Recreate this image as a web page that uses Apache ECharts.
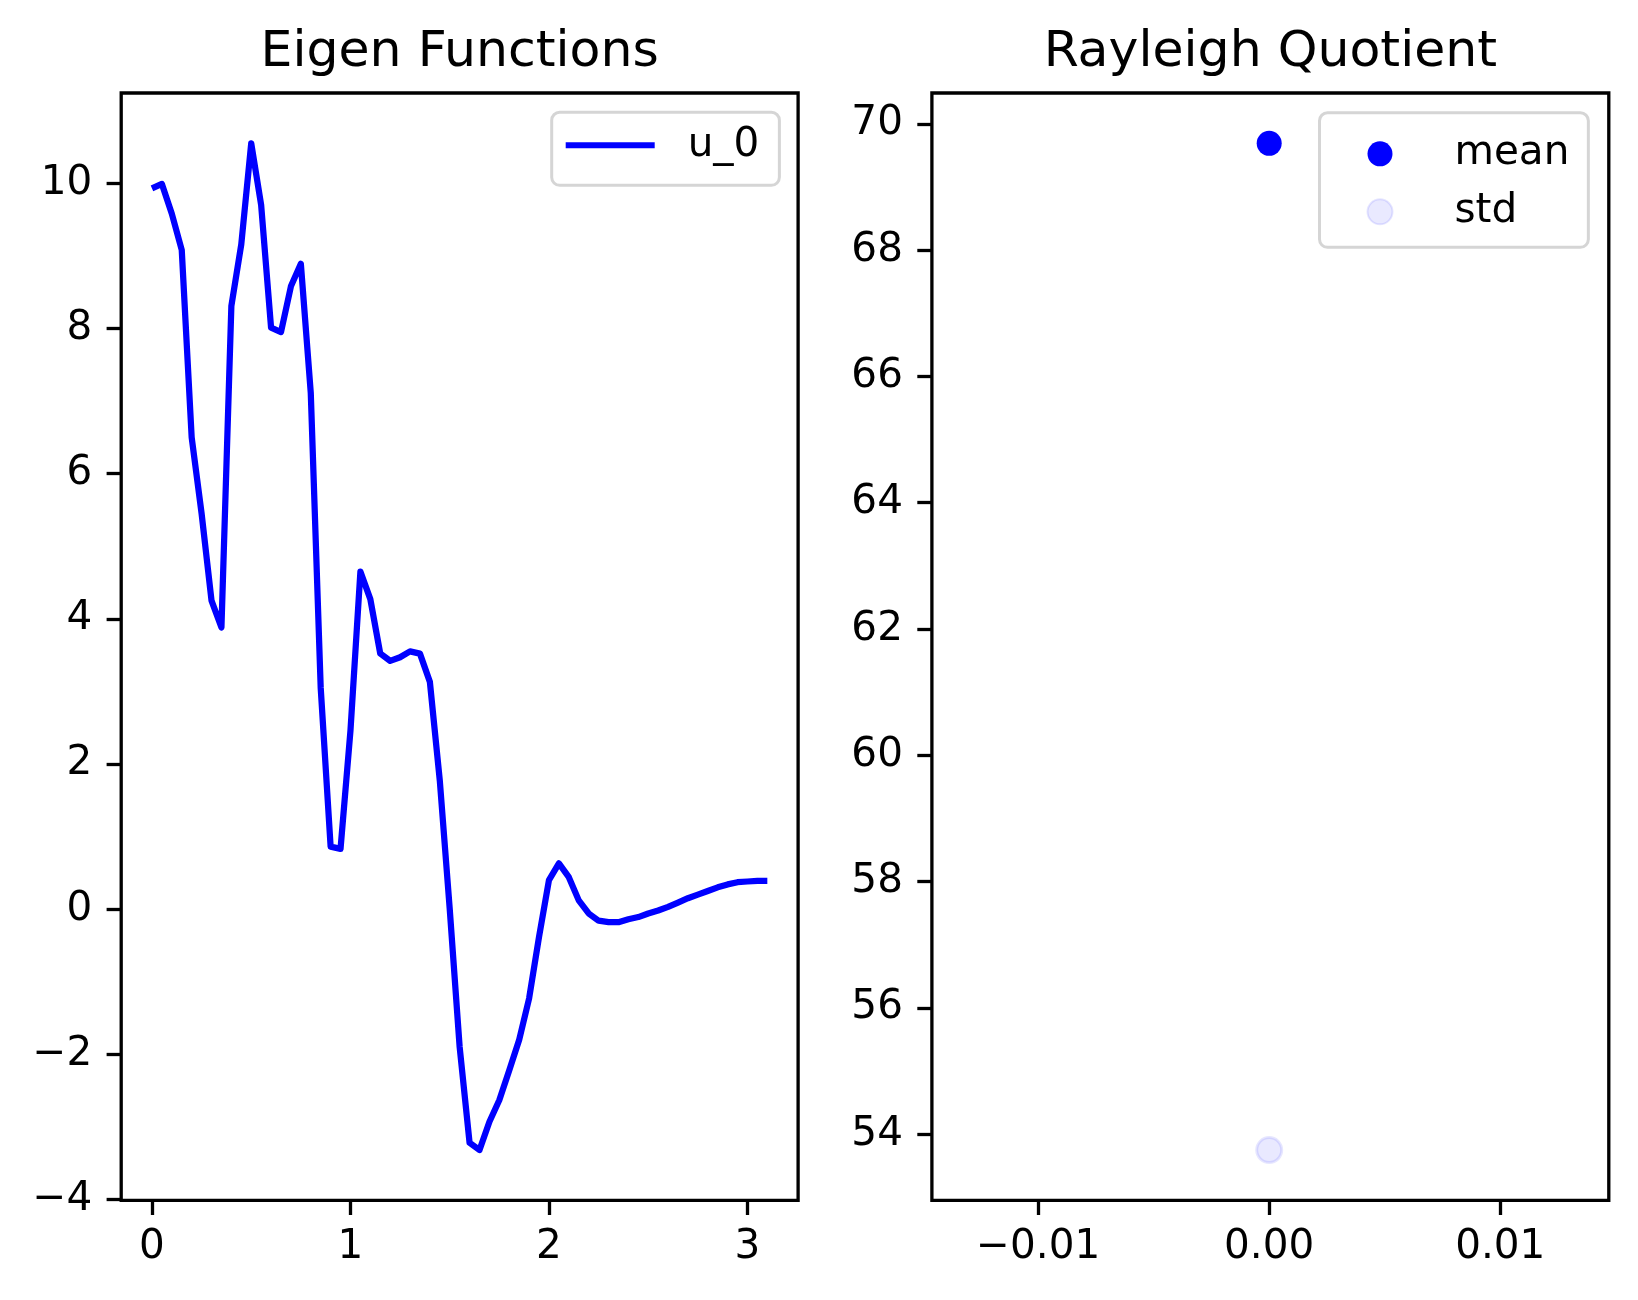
<!DOCTYPE html>
<html>
<head>
<meta charset="utf-8">
<script src="https://cdn.jsdelivr.net/npm/echarts@6/dist/echarts.min.js"></script>
<style>
html,body{margin:0;padding:0;background:#fff;}
#chart{width:1638px;height:1300px;}
</style>
</head>
<body>
<div id="chart"></div>
<script>
// ---- data ----
const xValues = [0, 0.05, 0.1, 0.15, 0.2, 0.25, 0.3, 0.35, 0.4, 0.45,
  0.5, 0.55, 0.6, 0.65, 0.7, 0.75, 0.8, 0.85, 0.9, 0.95,
  1.0, 1.05, 1.1, 1.15, 1.2, 1.25, 1.3, 1.35, 1.4, 1.45,
  1.5, 1.55, 1.6, 1.65, 1.7, 1.75, 1.8, 1.85, 1.9, 1.95,
  2.0, 2.05, 2.1, 2.15, 2.2, 2.25, 2.3, 2.35, 2.4, 2.45,
  2.5, 2.55, 2.6, 2.65, 2.7, 2.75, 2.8, 2.85, 2.9, 2.95,
  3.0, 3.05, 3.1];
const u0 = [9.93, 9.99, 9.58, 9.08, 6.50, 5.45, 4.25, 3.88, 8.31, 9.16,
  10.55, 9.70, 8.01, 7.95, 8.58, 8.89, 7.11, 3.05, 0.86, 0.83,
  2.46, 4.65, 4.27, 3.52, 3.42, 3.47, 3.55, 3.52, 3.13, 1.77,
  0.0, -1.9, -3.22, -3.32, -2.93, -2.63, -2.22, -1.80, -1.23, -0.38,
  0.40, 0.63, 0.44, 0.12, -0.06, -0.16, -0.18, -0.18, -0.14, -0.11,
  -0.06, -0.02, 0.03, 0.09, 0.15, 0.20, 0.25, 0.30, 0.34, 0.37,
  0.38, 0.39, 0.39];
const meanX = [0];
const meanY = [69.69];
const stdX = [0];
const stdY = [53.75];

const leftXTicks = [0, 1, 2, 3];
const leftYTicks = [-4, -2, 0, 2, 4, 6, 8, 10];
const rightXTicks = [-0.01, 0, 0.01];
const rightYTicks = [54, 56, 58, 60, 62, 64, 66, 68, 70];

const titles = ['Eigen Functions', 'Rayleigh Quotient'];
const seriesNames = ['u_0', 'mean', 'std'];

// ---- helpers ----
const FONT = 'DejaVu Sans';
const TICK_FS = 40.5;
function pad(arr, frac) {
  const mn = Math.min.apply(null, arr), mx = Math.max.apply(null, arr);
  const r = mx - mn;
  return [mn - frac * r, mx + frac * r];
}
function minus(s) { return s.replace('-', '\u2212'); }
const lx = pad(xValues, 0.05);
const ly = pad(u0, 0.05);
const allRY = meanY.concat(stdY);
const ry = pad(allRY, 0.05);

const grid0 = {left: 121.2, top: 93, width: 676.9, height: 1107.4};
const grid1 = {left: 931.9, top: 93, width: 676.9, height: 1107.4};

function axisCommon(ticks, fmt, isX) {
  return {
    axisLine: {show: false, onZero: false},
    splitLine: {show: false},
    axisTick: {show: true, inside: false, length: 14.6, customValues: ticks,
      lineStyle: {color: '#000', width: 3.3}},
    axisLabel: {show: true, customValues: ticks, formatter: fmt,
      margin: isX ? 27 : 29, color: '#000', fontFamily: FONT, fontSize: TICK_FS,
      lineHeight: TICK_FS}
  };
}

const chart = echarts.init(document.getElementById('chart'), null, {renderer: 'canvas'});
const option = {
  animation: false,
  backgroundColor: '#fff',
  title: [
    {text: titles[0], left: grid0.left + grid0.width / 2, textAlign: 'center', top: 28, padding: 0,
      textStyle: {fontFamily: FONT, fontSize: 50.5, fontWeight: 'normal', color: '#000', lineHeight: 50.5}},
    {text: titles[1], left: grid1.left + grid1.width / 2, textAlign: 'center', top: 28, padding: 0,
      textStyle: {fontFamily: FONT, fontSize: 50.5, fontWeight: 'normal', color: '#000', lineHeight: 50.5}}
  ],
  grid: [
    Object.assign({show: true, borderColor: '#000', borderWidth: 3.3, containLabel: false}, grid0),
    Object.assign({show: true, borderColor: '#000', borderWidth: 3.3, containLabel: false}, grid1)
  ],
  legend: [
    {data: [seriesNames[0]], left: 551.7, top: 112.3, orient: 'vertical',
      selectedMode: false, icon: 'rect', itemWidth: 89, itemHeight: 6,
      padding: [8, 20, 15, 14], borderColor: '#d5d5d5', borderWidth: 3, borderRadius: 8,
      backgroundColor: '#fff',
      textStyle: {fontFamily: FONT, fontSize: TICK_FS, color: '#000', lineHeight: 50, padding: [0, 0, 0, 28]}},
    {data: [seriesNames[1], seriesNames[2]], left: 1319.5, top: 112.8, orient: 'vertical',
      selectedMode: false, itemWidth: 25, itemHeight: 25, itemGap: 17,
      padding: [20.5, 19, 15, 47], borderColor: '#d5d5d5', borderWidth: 3, borderRadius: 8,
      backgroundColor: '#fff',
      textStyle: {fontFamily: FONT, fontSize: TICK_FS, color: '#000', lineHeight: 25, padding: [0, 0, 0, 57]}}
  ],
  xAxis: [
    Object.assign({type: 'value', gridIndex: 0, min: lx[0], max: lx[1]},
      axisCommon(leftXTicks, v => minus(String(v)), true)),
    Object.assign({type: 'value', gridIndex: 1, min: -0.0146, max: 0.0147},
      axisCommon(rightXTicks, v => minus(v.toFixed(2)), true))
  ],
  yAxis: [
    Object.assign({type: 'value', gridIndex: 0, min: ly[0], max: ly[1]},
      axisCommon(leftYTicks, v => minus(String(v)), false)),
    Object.assign({type: 'value', gridIndex: 1, min: ry[0], max: ry[1]},
      axisCommon(rightYTicks, v => minus(String(v)), false))
  ],
  series: [
    {name: seriesNames[0], type: 'line', xAxisIndex: 0, yAxisIndex: 0,
      data: xValues.map((x, i) => [x, u0[i]]),
      showSymbol: false, symbol: 'none', smooth: false,
      lineStyle: {color: '#0000ff', width: 6.25, join: 'round'},
      itemStyle: {color: '#0000ff'}},
    {name: seriesNames[1], type: 'scatter', xAxisIndex: 1, yAxisIndex: 1,
      data: meanX.map((x, i) => [x, meanY[i]]),
      symbol: 'circle', symbolSize: 25,
      itemStyle: {color: '#0000ff', opacity: 1}},
    {name: seriesNames[2], type: 'scatter', xAxisIndex: 1, yAxisIndex: 1,
      data: stdX.map((x, i) => [x, stdY[i]]),
      symbol: 'circle', symbolSize: 25,
      itemStyle: {color: 'rgba(0,0,255,0.11)', borderColor: 'rgba(0,0,255,0.12)', borderWidth: 3}}
  ]
};
chart.setOption(option);
</script>
</body>
</html>
